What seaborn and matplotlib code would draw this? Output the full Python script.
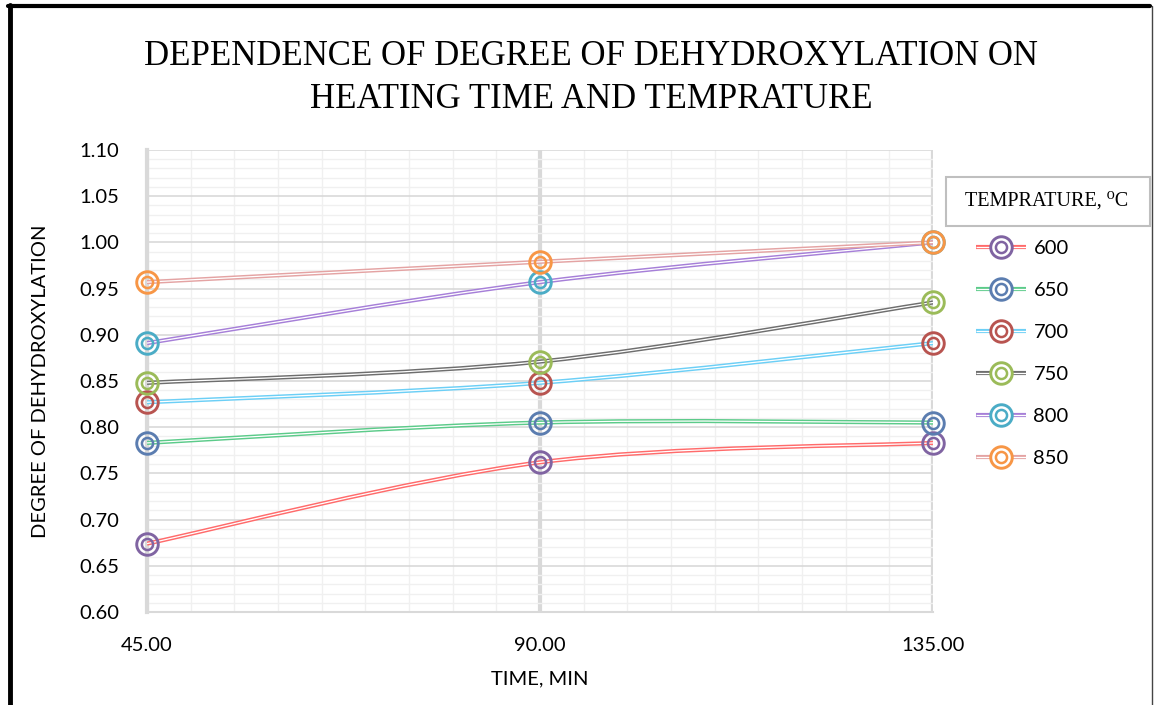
import numpy as np
import pandas as pd
import matplotlib
matplotlib.use("Agg")
import matplotlib.pyplot as plt
import seaborn as sns
from matplotlib.path import Path
from matplotlib.patches import PathPatch, Rectangle
from matplotlib.lines import Line2D
from matplotlib.legend_handler import HandlerTuple

# ---------------- data ----------------
times = [45.0, 90.0, 135.0]
temperatures = ["600", "650", "700", "750", "800", "850"]
deg_600 = [0.674, 0.762, 0.783]
deg_650 = [0.783, 0.805, 0.805]
deg_700 = [0.827, 0.848, 0.891]
deg_750 = [0.848, 0.871, 0.935]
deg_800 = [0.891, 0.957, 1.000]
deg_850 = [0.957, 0.979, 1.000]
series_values = [deg_600, deg_650, deg_700, deg_750, deg_800, deg_850]

x_ticks = [45.0, 90.0, 135.0]
x_tick_labels = ["45.00", "90.00", "135.00"]
y_ticks = [0.60, 0.65, 0.70, 0.75, 0.80, 0.85, 0.90, 0.95, 1.00, 1.05, 1.10]

title = "DEPENDENCE OF DEGREE OF DEHYDROXYLATION ON\nHEATING TIME AND TEMPRATURE"
x_label = "TIME, MIN"
y_label = "DEGREE OF DEHYDROXYLATION"
legend_title = "TEMPRATURE, \u2070C"

# ---------------- styles ----------------
line_colors = ["#FF6B6B", "#5CCB8A", "#6CCFF6", "#6E6E6E", "#A67FD8", "#E4A3A3"]
marker_colors = ["#8064A2", "#5B7DB0", "#B85450", "#9BBB59", "#4BACC6", "#F79646"]

df = pd.DataFrame({
    "time": np.tile(times, len(temperatures)),
    "temp": np.repeat(temperatures, len(times)),
    "value": np.concatenate(series_values),
})

sns.set_theme(style="white")
sans = ["Lato", "DejaVu Sans"]
serif = ["Liberation Serif", "DejaVu Serif"]
plt.rcParams["font.family"] = sans
plt.rcParams["text.color"] = "black"

W, H = 1154, 705
fig = plt.figure(figsize=(W / 100, H / 100), dpi=100)
ax = fig.add_axes([147 / W, 1 - 612 / H, (933 - 147) / W, (612 - 150) / H])

ax.set_xlim(45, 135)
ax.set_ylim(0.60, 1.10)

# grid
ax.set_xticks(x_ticks)
ax.set_xticklabels(x_tick_labels)
ax.set_xticks(np.arange(45, 136, 5), minor=True)
ax.set_yticks(y_ticks)
ax.set_yticklabels([f"{v:.2f}" for v in y_ticks])
ax.set_yticks(np.arange(0.60, 1.1001, 0.01), minor=True)
ax.grid(which="minor", axis="both", color="#F0F0F0", lw=1.0, zorder=0)
ax.grid(which="major", axis="y", color="#D9D9D9", lw=1.2, zorder=0)
ax.grid(which="major", axis="x", color="#D9D9D9", lw=3.0, zorder=0)
ax.set_axisbelow(True)
for s in ["top", "right"]:
    ax.spines[s].set_visible(False)
ax.spines["left"].set_color("#D9D9D9")
ax.spines["left"].set_linewidth(3.0)
ax.spines["bottom"].set_color("#D9D9D9")
ax.spines["bottom"].set_linewidth(1.5)
ax.tick_params(which="both", length=0)
ax.tick_params(axis="y", labelsize=14.5, pad=20, colors="#000000")
ax.tick_params(axis="x", labelsize=14.5, pad=18, colors="#000000")


def smooth_path(xs, ys):
    pts = list(zip(xs, ys))
    n = len(pts)
    verts = [pts[0]]
    codes = [Path.MOVETO]
    for i in range(n - 1):
        p0 = pts[i - 1] if i > 0 else pts[i]
        p1 = pts[i]
        p2 = pts[i + 1]
        p3 = pts[i + 2] if i + 2 < n else pts[i + 1]
        c1 = (p1[0] + (p2[0] - p0[0]) / 6, p1[1] + (p2[1] - p0[1]) / 6)
        c2 = (p2[0] - (p3[0] - p1[0]) / 6, p2[1] - (p3[1] - p1[1]) / 6)
        verts += [c1, c2, p2]
        codes += [Path.CURVE4] * 3
    return Path(verts, codes)


MS_OUT, MEW_OUT = 15.5, 2.1
MS_IN, MEW_IN = 8.0, 1.8

handles = []
for i, t in enumerate(temperatures):
    sub = df[df["temp"] == t]
    path = smooth_path(sub["time"].tolist(), sub["value"].tolist())
    ax.add_patch(PathPatch(path, fc="none", ec=line_colors[i], lw=3.0,
                           zorder=3 + i * 0.1, transform=ax.transData, capstyle="butt"))
    ax.add_patch(PathPatch(path, fc="none", ec="white", lw=0.9,
                           zorder=3.05 + i * 0.1, transform=ax.transData, capstyle="butt"))
    sns.lineplot(data=sub, x="time", y="value", ax=ax, color=marker_colors[i],
                 marker="o", ms=MS_OUT, mec=marker_colors[i], mfc="none", mew=MEW_OUT,
                 linestyle="", clip_on=False, zorder=6, legend=False)
    sns.lineplot(data=sub, x="time", y="value", ax=ax, color=marker_colors[i],
                 marker="o", ms=MS_IN, mec=marker_colors[i], mfc="none", mew=MEW_IN,
                 linestyle="", clip_on=False, zorder=6, legend=False)
    h = (
        Line2D([], [], color=line_colors[i], lw=3.0, solid_capstyle="butt"),
        Line2D([], [], color="white", lw=0.9, solid_capstyle="butt"),
        Line2D([], [], linestyle="", marker="o", ms=MS_OUT, mec=marker_colors[i], mfc="white", mew=MEW_OUT),
        Line2D([], [], linestyle="", marker="o", ms=MS_IN, mec=marker_colors[i], mfc="none", mew=MEW_IN),
    )
    handles.append(h)

ax.set_xlabel(x_label, fontsize=14.5, labelpad=12, color="#000000")
ax.set_ylabel(y_label, fontsize=14.5, labelpad=22, color="#000000")

leg = fig.legend(handles, temperatures, handler_map={tuple: HandlerTuple(ndivide=1, pad=0)},
                 loc="upper left", bbox_to_anchor=(968 / W, 1 - 232 / H),
                 frameon=False, fontsize=14.5, handlelength=2.5, handletextpad=0.35,
                 labelspacing=1.24, borderaxespad=0, labelcolor="black")

fig.add_artist(Rectangle((946 / W, 1 - 226 / H), (1150 - 946) / W, (226 - 177) / H,
                         transform=fig.transFigure, fc="white", ec="#BFBFBF", lw=1.5))
fig.text(1047 / W, 1 - 201 / H, legend_title, fontsize=14.5, family=serif,
         ha="center", va="center", color="black")

fig.text(591 / W, 1 - 78 / H, title, fontsize=25, family=serif, color="black",
         ha="center", va="center", linespacing=1.42)

# outer frame
fig.add_artist(Line2D([10 / W, 10 / W], [0, 1 - 5 / H], color="black", lw=3.5,
                      transform=fig.transFigure))
fig.add_artist(Line2D([8 / W, 1150 / W], [1 - 6 / H, 1 - 6 / H], color="black", lw=3.0,
                      transform=fig.transFigure))
fig.add_artist(Line2D([1152 / W, 1152 / W], [0, 1 - 6 / H], color="#444444", lw=1.0,
                      transform=fig.transFigure))

fig.savefig("out.png", dpi=100, facecolor="white")
